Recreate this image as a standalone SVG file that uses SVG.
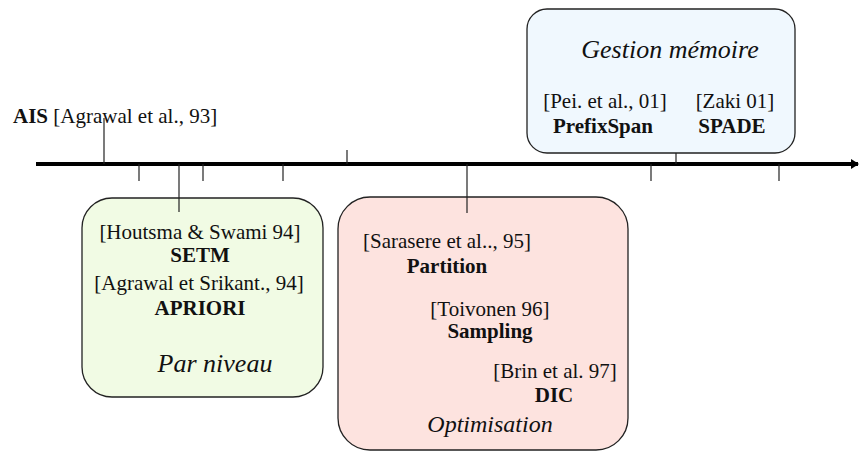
<svg xmlns="http://www.w3.org/2000/svg" width="860" height="452" viewBox="0 0 860 452" font-family="'Liberation Serif', 'DejaVu Serif', serif">
<style>
.t{font-family:'Liberation Serif', 'DejaVu Serif', serif;fill:#111;}
.r{font-size:21px;}
.b{font-size:21px;font-weight:bold;}
.i{font-size:26px;font-style:italic;}
.c{text-anchor:middle;}
.box{stroke:#222;stroke-width:1.3;}
.tick{stroke:#222;stroke-width:1.2;fill:none;}
</style>
<defs>
<marker id="ah" markerWidth="8" markerHeight="10" refX="7" refY="5" orient="auto" markerUnits="userSpaceOnUse">
<path d="M0,0 L8,5 L0,10 Z" fill="#000"/>
</marker>
</defs>
<g id="connectors">
<line x1="36" y1="164" x2="858" y2="164" stroke="#000" stroke-width="4" marker-end="url(#ah)"/>
<line class="tick" x1="104" y1="118" x2="104" y2="164"/>
<line class="tick" x1="347" y1="150" x2="347" y2="164"/>
<line class="tick" x1="676" y1="125" x2="676" y2="164"/>
<line class="tick" x1="139" y1="164" x2="139" y2="181"/>
<line class="tick" x1="203" y1="164" x2="203" y2="181"/>
<line class="tick" x1="283" y1="164" x2="283" y2="181"/>
<line class="tick" x1="651" y1="164" x2="651" y2="181"/>
<line class="tick" x1="779" y1="164" x2="779" y2="181"/>
</g>
<g id="ais">
<text x="13" y="123" class="t r"><tspan font-weight="bold">AIS</tspan> [Agrawal et al., 93]</text>
</g>
<g id="gestion-memoire">
<rect class="box" x="527" y="9" width="268" height="144" rx="20" ry="20" fill="#f0f8fe"/>
<text x="670" y="58" class="t i c">Gestion mémoire</text>
<text x="605" y="108" class="t r c">[Pei. et al., 01]</text>
<text x="603" y="133" class="t b c">PrefixSpan</text>
<text x="735" y="108" class="t r c">[Zaki 01]</text>
<text x="732" y="133" class="t b c">SPADE</text>
</g>
<g id="par-niveau">
<rect class="box" x="82" y="198" width="241" height="199" rx="30" ry="30" fill="#f1fbe4"/>
<text x="200" y="239" class="t r c">[Houtsma &amp; Swami 94]</text>
<text x="200" y="262" class="t b c">SETM</text>
<text x="199" y="290" class="t r c">[Agrawal et Srikant., 94]</text>
<text x="200" y="315" class="t b c">APRIORI</text>
<text x="215" y="372" class="t i c">Par niveau</text>
</g>
<g id="optimisation">
<rect class="box" x="338" y="197" width="290" height="253" rx="32" ry="32" fill="#fde3df"/>
<text x="447" y="248" class="t r c">[Sarasere et al.., 95]</text>
<text x="447" y="273" class="t b c">Partition</text>
<text x="490" y="316" class="t r c">[Toivonen 96]</text>
<text x="490" y="338" class="t b c">Sampling</text>
<text x="555" y="378" class="t r c">[Brin et al. 97]</text>
<text x="554" y="402" class="t b c">DIC</text>
<text x="490" y="432" class="t i c" style="font-size:24px">Optimisation</text>
</g>
<g id="ticks-into-boxes">
<line class="tick" x1="179" y1="164" x2="179" y2="212"/>
<line class="tick" x1="467" y1="164" x2="467" y2="213"/>
</g>
</svg>
